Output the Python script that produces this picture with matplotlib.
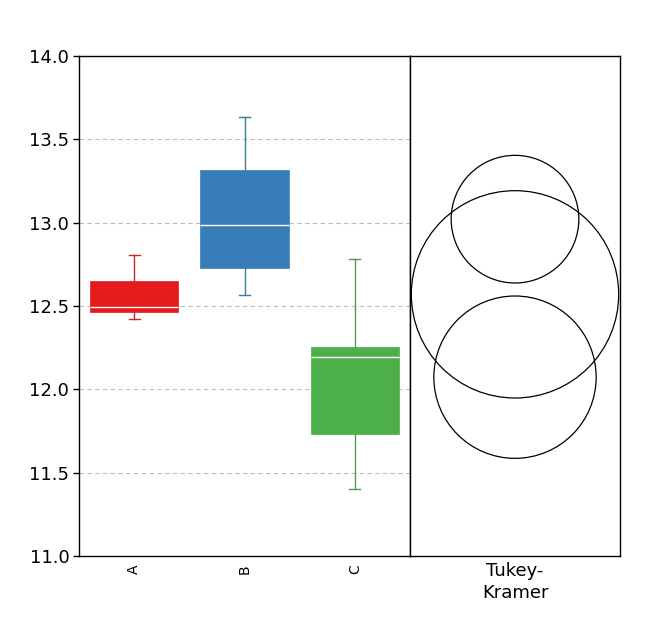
import matplotlib
matplotlib.use("Agg")
import matplotlib.pyplot as plt
from matplotlib.patches import Circle

# ---- data ----
categories = ["A", "B", "C"]
whisker_low = [12.42, 12.565, 11.40]
q1 = [12.462, 12.73, 11.735]
medians = [12.494, 12.986, 12.192]
q3 = [12.65, 13.316, 12.254]
whisker_high = [12.805, 13.632, 12.78]
box_colors = ["#e41a1c", "#377eb8", "#4daf4a"]
whisker_colors = ["#c72a2d", "#3c7aa3", "#4f9d4f"]

circle_centers = [12.570, 13.021, 12.073]
circle_radii = [0.622, 0.383, 0.487]

y_ticks = [11.0, 11.5, 12.0, 12.5, 13.0, 13.5, 14.0]
side_label = "Tukey-\nKramer"

W, H = 663, 624
fig = plt.figure(figsize=(W / 100, H / 100), dpi=100)
left_px, mid_px, right_px = 79, 410, 620
top_px, bot_px = 56, 556
ax = fig.add_axes([left_px / W, (H - bot_px) / H, (mid_px - left_px) / W, (bot_px - top_px) / H])
ax2 = fig.add_axes([mid_px / W, (H - bot_px) / H, (right_px - mid_px) / W, (bot_px - top_px) / H])

stats = []
for i, c in enumerate(categories):
    stats.append(dict(label=c, whislo=whisker_low[i], q1=q1[i], med=medians[i],
                      q3=q3[i], whishi=whisker_high[i], fliers=[]))

for i, s in enumerate(stats):
    ax.bxp([s], positions=[i + 1], widths=0.8, patch_artist=True, showfliers=False,
           capwidths=0.1,
           boxprops=dict(facecolor=box_colors[i], edgecolor=box_colors[i], linewidth=0.5),
           medianprops=dict(color="white", linewidth=1.0),
           whiskerprops=dict(color=whisker_colors[i], linewidth=1.0),
           capprops=dict(color=whisker_colors[i], linewidth=1.0),
           zorder=3)

ax.set_xlim(0.5, 3.5)
ax.set_ylim(11.0, 14.0)
ax.set_yticks(y_ticks)
ax.set_yticklabels([f"{v:.1f}" for v in y_ticks], fontsize=13)
ax.set_xticks([1, 2, 3])
ax.set_xticklabels(categories, rotation=90, fontsize=10)
ax.tick_params(axis="x", length=0, pad=6)
ax.tick_params(axis="y", length=4, width=1, direction="out", pad=3)
for yv in y_ticks[1:-1]:
    ax.axhline(yv, color="#bdbdbd", linestyle=(0, (4, 3)), linewidth=0.8, zorder=1)
for sp in ax.spines.values():
    sp.set_linewidth(1.0)
    sp.set_color("black")

# right panel: comparison circles
w_units = 3.0 * (right_px - mid_px) / (bot_px - top_px)
ax2.set_xlim(-w_units / 2, w_units / 2)
ax2.set_ylim(11.0, 14.0)
for cy, r in zip(circle_centers, circle_radii):
    ax2.add_patch(Circle((0, cy), r, fill=False, edgecolor="black", linewidth=0.9))
ax2.set_yticks([])
ax2.set_xticks([0])
ax2.set_xticklabels([side_label], fontsize=13, linespacing=1.35)
ax2.tick_params(axis="x", length=0, pad=4)
for sp in ax2.spines.values():
    sp.set_linewidth(1.0)
    sp.set_color("black")

fig.savefig("out.png", dpi=100)
